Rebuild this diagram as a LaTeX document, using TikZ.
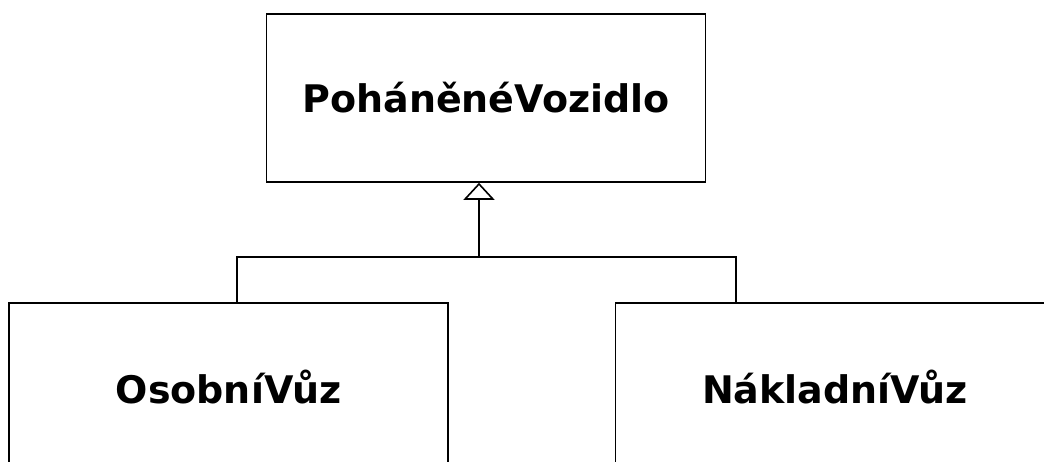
\documentclass[tikz,border=0pt]{standalone}
\usepackage{fontspec}
\setmainfont{DejaVu Sans}
\usepackage{tikz}
\usetikzlibrary{positioning,arrows.meta,shapes}

\begin{document}
\begin{tikzpicture}[x=1pt,y=-1pt,
  line width=1.6pt,
  class/.style={rectangle,draw,minimum width=439pt,minimum height=168pt,
    font=\bfseries\fontsize{38}{44}\selectfont},
  generalization/.style={-{Triangle[open,width=31pt,length=17pt]}}]
  \useasboundingbox (0,0) rectangle (1044,462);
  \node[class] (vozidlo) at (486,98) {PoháněnéVozidlo};
  \node[class] (osobni) at (228.5,387) {OsobníVůz};
  \node[class] (nakladni) at (835,387) {NákladníVůz};
  % inheritance tree
  \coordinate (joint) at (479,257);
  \coordinate (jleft) at (237,257);
  \coordinate (jright) at (736,257);
  \draw (osobni.north -| jleft) -- (jleft) -- (jright) -- (nakladni.north -| jright);
  \draw[generalization] (joint) -- (joint |- vozidlo.south);
\end{tikzpicture}
\end{document}
